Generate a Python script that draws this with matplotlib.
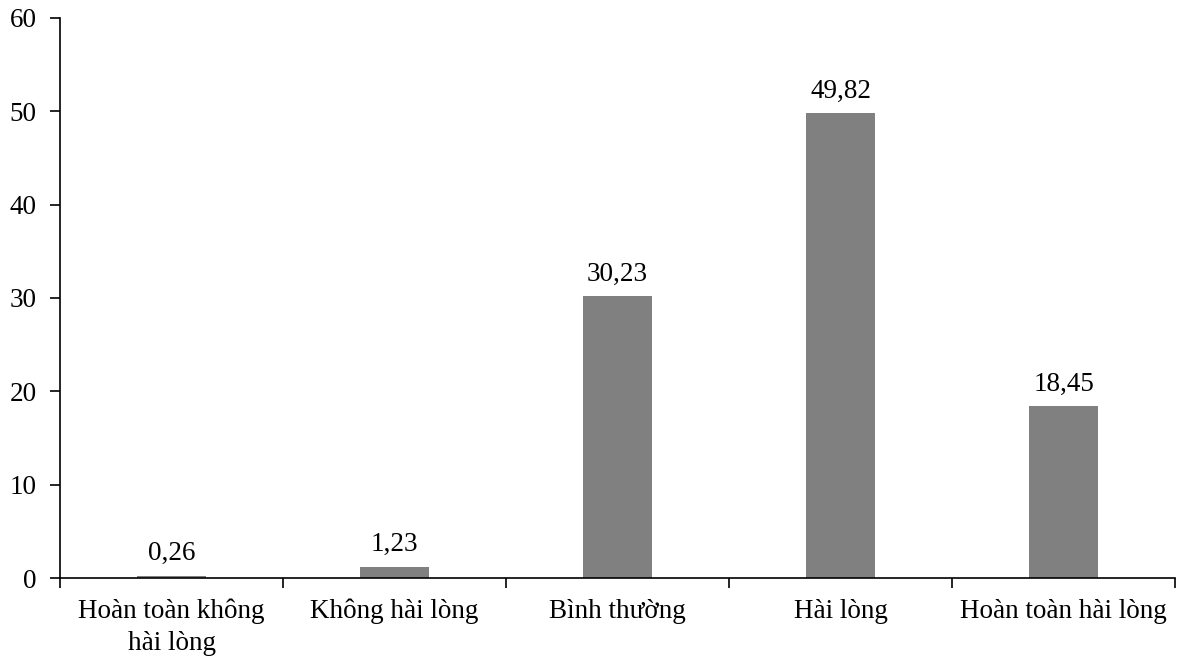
import matplotlib.pyplot as plt
import numpy as np

categories = ["Hoàn toàn không\nhài lòng", "Không hài lòng", "Bình thường",
              "Hài lòng", "Hoàn toàn hài lòng"]
values = [0.26, 1.23, 30.23, 49.82, 18.45]
y_ticks = [0, 10, 20, 30, 40, 50, 60]

plt.rcParams['font.family'] = ['Liberation Serif', 'DejaVu Serif']
fs = 19.5

fig = plt.figure(figsize=(11.81, 6.59), dpi=100)
ax = fig.add_axes([0.0508, 0.1229, 0.9442, 0.8498])

x = np.arange(len(categories))
bars = ax.bar(x, values, width=0.31, color='#808080')

# nhãn giá trị trên mỗi cột (dấu phẩy thập phân)
for xi, v in zip(x, values):
    ax.text(xi, v + 1.0, f"{v:.2f}".replace('.', ','), ha='center', va='bottom',
            fontsize=fs, color='black')

ax.set_xlim(-0.5, len(categories) - 0.5)
ax.set_ylim(0, 60)
ax.set_yticks(y_ticks)
ax.set_yticklabels([str(t) for t in y_ticks], fontsize=fs)
ax.tick_params(axis='y', direction='out', length=7, width=1.2, pad=10)

# category labels centred, ticks at the boundaries
ax.set_xticks(x)
ax.set_xticklabels(categories, fontsize=fs, linespacing=1.35)
ax.tick_params(axis='x', which='major', length=0, pad=15)
ax.set_xticks(np.arange(-0.5, len(categories)), minor=True)
ax.tick_params(axis='x', which='minor', direction='out', length=7, width=1.2)

for side in ['top', 'right']:
    ax.spines[side].set_visible(False)
for side in ['left', 'bottom']:
    ax.spines[side].set_linewidth(1.2)

fig.savefig('out.png', dpi=100)
